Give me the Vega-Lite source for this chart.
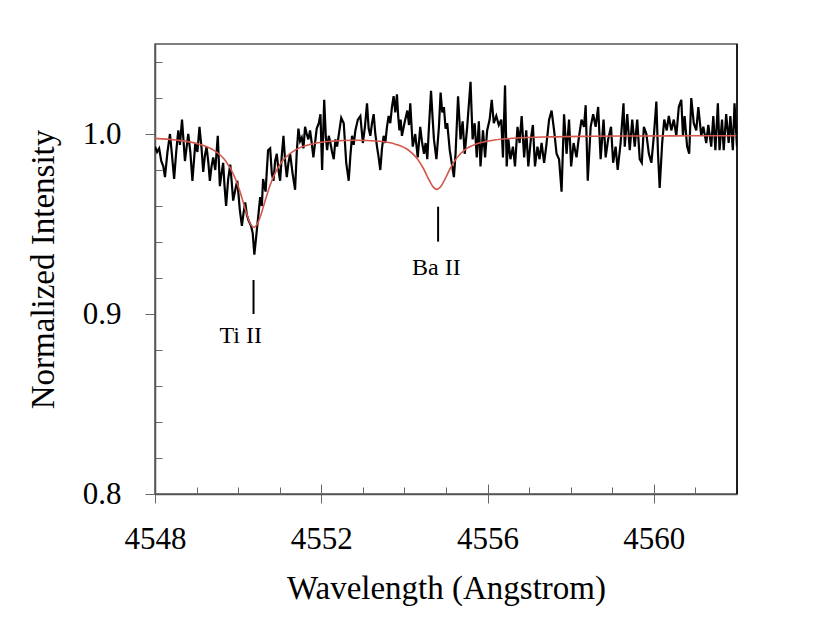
{
"$schema": "https://vega.github.io/schema/vega-lite/v6.json",
"width": 582, "height": 450,
"autosize": "none",
"padding": {"left": 155, "top": 44, "right": 93, "bottom": 148},
"background": "white",
"config": {
  "view": {"stroke": "#555", "strokeWidth": 1.5},
  "font": "Liberation Serif",
  "axis": {"labelFont": "Liberation Serif", "titleFont": "Liberation Serif", "labelColor": "black", "titleColor": "black", "titleFontWeight": "normal", "grid": false, "labelFlush": false, "labelOverlap": false, "tickColor": "#666", "domainColor": "#555", "domainWidth": 1.5, "tickWidth": 1}
},
"datasets": {
  "spectrum": [
{"w":4548.00,"f":0.993},{"w":4548.05,"f":0.990},{"w":4548.10,"f":0.992},{"w":4548.15,"f":0.985},{"w":4548.20,"f":0.982},{"w":4548.24,"f":0.976},{"w":4548.30,"f":0.990},{"w":4548.36,"f":1.000},{"w":4548.41,"f":0.988},{"w":4548.46,"f":0.975},{"w":4548.51,"f":0.990},{"w":4548.56,"f":1.002},{"w":4548.60,"f":0.994},{"w":4548.65,"f":1.008},{"w":4548.72,"f":0.985},{"w":4548.80,"f":1.000},{"w":4548.85,"f":0.990},{"w":4548.90,"f":0.974},{"w":4548.97,"f":0.995},{"w":4549.02,"f":0.990},{"w":4549.07,"f":1.004},{"w":4549.12,"f":0.992},{"w":4549.16,"f":0.979},{"w":4549.20,"f":0.988},{"w":4549.24,"f":0.993},{"w":4549.28,"f":0.985},{"w":4549.32,"f":0.974},{"w":4549.36,"f":0.982},{"w":4549.40,"f":0.987},{"w":4549.45,"f":0.980},{"w":4549.51,"f":0.999},{"w":4549.56,"f":0.971},{"w":4549.60,"f":0.978},{"w":4549.64,"f":0.984},{"w":4549.67,"f":0.972},{"w":4549.71,"f":0.960},{"w":4549.76,"f":0.975},{"w":4549.81,"f":0.983},{"w":4549.85,"f":0.972},{"w":4549.88,"f":0.963},{"w":4549.94,"f":0.970},{"w":4549.98,"f":0.974},{"w":4550.04,"f":0.958},{"w":4550.09,"f":0.949},{"w":4550.13,"f":0.956},{"w":4550.17,"f":0.962},{"w":4550.21,"f":0.955},{"w":4550.25,"f":0.952},{"w":4550.31,"f":0.949},{"w":4550.35,"f":0.945},{"w":4550.39,"f":0.933},{"w":4550.43,"f":0.942},{"w":4550.46,"f":0.949},{"w":4550.50,"f":0.958},{"w":4550.53,"f":0.965},{"w":4550.57,"f":0.960},{"w":4550.60,"f":0.975},{"w":4550.66,"f":0.968},{"w":4550.72,"f":0.991},{"w":4550.77,"f":0.992},{"w":4550.81,"f":0.978},{"w":4550.85,"f":0.974},{"w":4550.89,"f":0.985},{"w":4550.93,"f":0.989},{"w":4550.97,"f":0.980},{"w":4551.01,"f":0.974},{"w":4551.05,"f":0.988},{"w":4551.09,"f":0.999},{"w":4551.13,"f":0.985},{"w":4551.17,"f":0.976},{"w":4551.21,"f":0.984},{"w":4551.25,"f":0.989},{"w":4551.31,"f":0.978},{"w":4551.37,"f":0.969},{"w":4551.41,"f":0.990},{"w":4551.45,"f":1.003},{"w":4551.49,"f":0.996},{"w":4551.53,"f":0.998},{"w":4551.57,"f":0.992},{"w":4551.61,"f":1.004},{"w":4551.65,"f":1.000},{"w":4551.69,"f":0.997},{"w":4551.73,"f":1.002},{"w":4551.77,"f":0.995},{"w":4551.81,"f":0.987},{"w":4551.85,"f":0.995},{"w":4551.89,"f":1.003},{"w":4551.94,"f":1.006},{"w":4551.98,"f":1.011},{"w":4552.02,"f":0.980},{"w":4552.07,"f":1.019},{"w":4552.11,"f":0.998},{"w":4552.14,"f":0.991},{"w":4552.18,"f":0.999},{"w":4552.22,"f":0.995},{"w":4552.26,"f":0.990},{"w":4552.30,"f":0.986},{"w":4552.34,"f":0.997},{"w":4552.38,"f":0.993},{"w":4552.43,"f":1.001},{"w":4552.48,"f":1.009},{"w":4552.54,"f":1.006},{"w":4552.60,"f":0.984},{"w":4552.66,"f":0.974},{"w":4552.70,"f":0.988},{"w":4552.74,"f":0.999},{"w":4552.78,"f":0.994},{"w":4552.82,"f":1.002},{"w":4552.88,"f":1.008},{"w":4552.94,"f":1.010},{"w":4553.00,"f":0.995},{"w":4553.05,"f":1.004},{"w":4553.10,"f":1.017},{"w":4553.14,"f":1.003},{"w":4553.18,"f":0.999},{"w":4553.22,"f":1.006},{"w":4553.26,"f":1.011},{"w":4553.30,"f":1.000},{"w":4553.34,"f":0.993},{"w":4553.38,"f":0.987},{"w":4553.42,"f":0.980},{"w":4553.46,"f":0.992},{"w":4553.50,"f":0.999},{"w":4553.54,"f":0.995},{"w":4553.58,"f":1.004},{"w":4553.62,"f":1.010},{"w":4553.66,"f":1.006},{"w":4553.70,"f":1.015},{"w":4553.74,"f":1.021},{"w":4553.78,"f":1.012},{"w":4553.82,"f":1.022},{"w":4553.85,"f":1.010},{"w":4553.88,"f":1.002},{"w":4553.91,"f":1.008},{"w":4553.94,"f":0.999},{"w":4554.00,"f":1.006},{"w":4554.07,"f":1.013},{"w":4554.11,"f":1.005},{"w":4554.14,"f":1.017},{"w":4554.20,"f":0.993},{"w":4554.26,"f":1.000},{"w":4554.32,"f":0.987},{"w":4554.38,"f":1.004},{"w":4554.42,"f":0.996},{"w":4554.47,"f":0.989},{"w":4554.51,"f":0.995},{"w":4554.55,"f":0.986},{"w":4554.59,"f":1.004},{"w":4554.64,"f":1.024},{"w":4554.68,"f":1.008},{"w":4554.71,"f":0.997},{"w":4554.77,"f":0.986},{"w":4554.83,"f":1.004},{"w":4554.87,"f":1.023},{"w":4554.91,"f":1.012},{"w":4554.95,"f":1.015},{"w":4554.99,"f":1.003},{"w":4555.03,"f":1.006},{"w":4555.09,"f":0.991},{"w":4555.15,"f":0.982},{"w":4555.19,"f":0.976},{"w":4555.23,"f":0.989},{"w":4555.29,"f":1.021},{"w":4555.35,"f":0.997},{"w":4555.40,"f":1.007},{"w":4555.45,"f":0.989},{"w":4555.51,"f":1.004},{"w":4555.59,"f":1.029},{"w":4555.64,"f":0.997},{"w":4555.69,"f":1.006},{"w":4555.74,"f":0.987},{"w":4555.79,"f":1.007},{"w":4555.83,"f":0.982},{"w":4555.89,"f":1.002},{"w":4555.94,"f":0.987},{"w":4555.99,"f":1.002},{"w":4556.05,"f":1.008},{"w":4556.10,"f":1.019},{"w":4556.15,"f":1.006},{"w":4556.21,"f":1.010},{"w":4556.27,"f":1.005},{"w":4556.33,"f":1.008},{"w":4556.37,"f":0.987},{"w":4556.42,"f":1.027},{"w":4556.46,"f":0.982},{"w":4556.50,"f":0.997},{"w":4556.55,"f":0.986},{"w":4556.61,"f":0.993},{"w":4556.66,"f":0.982},{"w":4556.72,"f":1.004},{"w":4556.77,"f":0.995},{"w":4556.82,"f":1.010},{"w":4556.88,"f":0.987},{"w":4556.93,"f":1.002},{"w":4556.98,"f":0.982},{"w":4557.04,"f":0.997},{"w":4557.09,"f":1.005},{"w":4557.14,"f":0.982},{"w":4557.20,"f":0.993},{"w":4557.25,"f":0.986},{"w":4557.30,"f":0.995},{"w":4557.36,"f":0.984},{"w":4557.41,"f":0.993},{"w":4557.48,"f":1.008},{"w":4557.54,"f":1.013},{"w":4557.60,"f":1.002},{"w":4557.66,"f":0.989},{"w":4557.72,"f":0.986},{"w":4557.78,"f":0.968},{"w":4557.84,"f":1.011},{"w":4557.90,"f":0.989},{"w":4557.96,"f":1.008},{"w":4558.01,"f":0.982},{"w":4558.07,"f":0.995},{"w":4558.14,"f":0.987},{"w":4558.19,"f":0.997},{"w":4558.26,"f":1.008},{"w":4558.32,"f":1.004},{"w":4558.36,"f":1.016},{"w":4558.41,"f":0.974},{"w":4558.48,"f":1.004},{"w":4558.54,"f":1.011},{"w":4558.60,"f":1.004},{"w":4558.66,"f":1.015},{"w":4558.72,"f":0.986},{"w":4558.79,"f":1.008},{"w":4558.84,"f":0.987},{"w":4558.90,"f":0.997},{"w":4558.97,"f":1.004},{"w":4559.02,"f":0.984},{"w":4559.08,"f":0.993},{"w":4559.13,"f":0.980},{"w":4559.20,"f":0.995},{"w":4559.27,"f":1.017},{"w":4559.30,"f":0.993},{"w":4559.36,"f":1.011},{"w":4559.42,"f":0.991},{"w":4559.48,"f":1.008},{"w":4559.54,"f":0.993},{"w":4559.60,"f":1.008},{"w":4559.66,"f":0.986},{"w":4559.71,"f":0.984},{"w":4559.76,"f":1.004},{"w":4559.82,"f":1.000},{"w":4559.88,"f":0.989},{"w":4559.94,"f":0.984},{"w":4560.00,"f":0.999},{"w":4560.06,"f":1.018},{"w":4560.10,"f":0.989},{"w":4560.14,"f":0.970},{"w":4560.20,"f":0.995},{"w":4560.25,"f":1.008},{"w":4560.31,"f":1.002},{"w":4560.36,"f":1.010},{"w":4560.42,"f":1.002},{"w":4560.48,"f":1.008},{"w":4560.54,"f":0.999},{"w":4560.60,"f":1.015},{"w":4560.66,"f":1.019},{"w":4560.70,"f":0.999},{"w":4560.74,"f":1.010},{"w":4560.80,"f":0.993},{"w":4560.85,"f":0.989},{"w":4560.90,"f":1.020},{"w":4560.96,"f":1.006},{"w":4561.02,"f":1.002},{"w":4561.07,"f":1.015},{"w":4561.14,"f":0.999},{"w":4561.19,"f":1.004},{"w":4561.26,"f":0.995},{"w":4561.31,"f":1.005},{"w":4561.38,"f":0.993},{"w":4561.43,"f":1.010},{"w":4561.48,"f":0.991},{"w":4561.54,"f":1.017},{"w":4561.58,"f":0.991},{"w":4561.64,"f":1.008},{"w":4561.68,"f":0.991},{"w":4561.74,"f":1.011},{"w":4561.80,"f":0.995},{"w":4561.84,"f":1.010},{"w":4561.90,"f":0.991},{"w":4561.94,"f":1.017},{"w":4562.00,"f":0.993}
  ],
  "model": [
{"w":4548.0,"f":0.99756},{"w":4548.5,"f":0.99666},{"w":4549.0,"f":0.99475},{"w":4549.4,"f":0.99115},{"w":4549.7,"f":0.98498},{"w":4549.9,"f":0.97696},{"w":4550.0,"f":0.97105},{"w":4550.1,"f":0.96380},{"w":4550.2,"f":0.95605},{"w":4550.3,"f":0.94994},{"w":4550.38,"f":0.94815},{"w":4550.46,"f":0.94992},{"w":4550.56,"f":0.95600},{"w":4550.66,"f":0.96374},{"w":4550.76,"f":0.97097},{"w":4550.86,"f":0.97685},{"w":4551.06,"f":0.98482},{"w":4551.36,"f":0.99090},{"w":4551.76,"f":0.99436},{"w":4552.26,"f":0.99602},{"w":4552.8,"f":0.99656},{"w":4553.4,"f":0.99595},{"w":4553.8,"f":0.99423},{"w":4554.1,"f":0.99097},{"w":4554.3,"f":0.98653},{"w":4554.45,"f":0.98111},{"w":4554.6,"f":0.97416},{"w":4554.7,"f":0.97034},{"w":4554.78,"f":0.96923},{"w":4554.86,"f":0.97038},{"w":4554.96,"f":0.97424},{"w":4555.11,"f":0.98125},{"w":4555.26,"f":0.98674},{"w":4555.46,"f":0.99127},{"w":4555.76,"f":0.99468},{"w":4556.16,"f":0.99665},{"w":4556.7,"f":0.99775},{"w":4557.5,"f":0.99840},{"w":4558.5,"f":0.99873},{"w":4559.5,"f":0.99888},{"w":4560.5,"f":0.99897},{"w":4561.3,"f":0.99902},{"w":4562.0,"f":0.99904}
  ],
  "lines": [
{"ion":"Ti II","w":4550.37,"lo":0.9,"hi":0.9189,"lw":4550.06,"lf":0.8840},
{"ion":"Ba II","w":4554.81,"lo":0.9402,"hi":0.9596,"lw":4554.77,"lf":0.9217}
  ]
},
"layer": [
  {
    "data": {"name": "spectrum"},
    "mark": {"type": "line", "color": "black", "strokeWidth": 2.2, "clip": true},
    "encoding": {
      "x": {"field": "w", "type": "quantitative", "scale": {"domain": [4548, 4562], "nice": false, "zero": false},
        "axis": {"orient": "bottom", "values": [4548, 4552, 4556, 4560], "format": "d", "tickSize": 9, "labelFont": "Liberation Serif", "labelFontSize": 31, "labelPadding": 21, "title": "Wavelength (Angstrom)", "titleFont": "Liberation Serif", "titleFontSize": 33, "titlePadding": 18}},
      "y": {"field": "f", "type": "quantitative", "scale": {"domain": [0.8, 1.05], "nice": false, "zero": false},
        "axis": {"orient": "left", "values": [0.8, 0.9, 1.0], "format": ".1f", "tickSize": 10, "labelFont": "Liberation Serif", "labelFontSize": 31, "labelPadding": 24, "title": "Normalized Intensity", "titleFont": "Liberation Serif", "titleFontSize": 33, "titlePadding": 22}}
    }
  },
  {
    "data": {"name": "model"},
    "mark": {"type": "line", "color": "#d4574c", "strokeWidth": 1.6, "interpolate": "monotone"},
    "encoding": {
      "x": {"field": "w", "type": "quantitative",
        "axis": {"orient": "bottom", "values": [4548,4549,4550,4551,4552,4553,4554,4555,4556,4557,4558,4559,4560,4561,4562], "tickSize": {"condition": {"test": "datum.value % 4 == 0", "value": -10}, "value": -7}, "labels": false, "domain": false, "title": null}},
      "y": {"field": "f", "type": "quantitative",
        "axis": {"orient": "left", "values": [0.82,0.84,0.86,0.88,0.92,0.94,0.96,0.98,1.02,1.04], "tickSize": -7, "labels": false, "domain": false, "title": null}}
    }
  },
  {
    "data": {"values": [{"edge": 4562}]},
    "mark": {"type": "rule", "color": "black", "strokeWidth": 1.5},
    "encoding": {"x": {"field": "edge", "type": "quantitative", "axis": null}}
  },
  {
    "data": {"name": "lines"},
    "mark": {"type": "rule", "color": "black", "strokeWidth": 2},
    "encoding": {
      "x": {"field": "w", "type": "quantitative", "axis": null},
      "y": {"field": "lo", "type": "quantitative", "axis": null},
      "y2": {"field": "hi"}
    }
  },
  {
    "data": {"name": "lines"},
    "mark": {"type": "text", "font": "Liberation Serif", "fontSize": 24, "color": "black", "align": "center", "baseline": "alphabetic"},
    "encoding": {
      "x": {"field": "lw", "type": "quantitative", "axis": null},
      "y": {"field": "lf", "type": "quantitative", "axis": null},
      "text": {"field": "ion"}
    }
  }
],
"resolve": {"axis": {"x": "independent", "y": "independent"}}
}
